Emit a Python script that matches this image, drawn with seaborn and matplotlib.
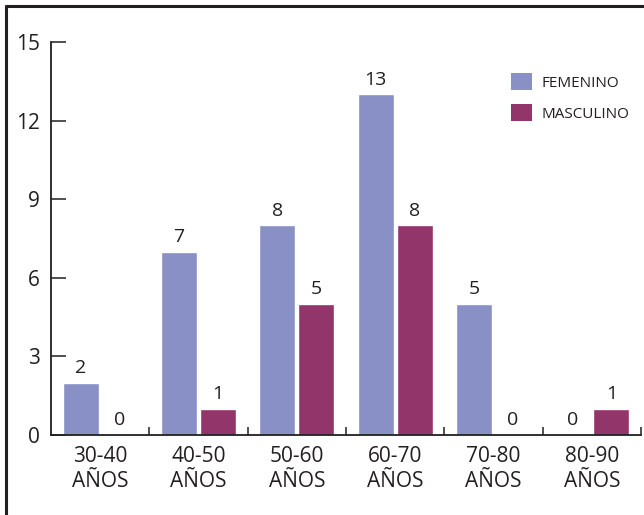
import pandas as pd
import matplotlib
matplotlib.use("Agg")
import matplotlib.pyplot as plt
import seaborn as sns
from matplotlib.patches import Patch
from matplotlib.lines import Line2D

# data
grupos = ["30-40\nAÑOS", "40-50\nAÑOS", "50-60\nAÑOS", "60-70\nAÑOS", "70-80\nAÑOS", "80-90\nAÑOS"]
femenino = [2, 7, 8, 13, 5, 0]
masculino = [0, 1, 5, 8, 0, 1]
series = ["FEMENINO", "MASCULINO"]
colores = ["#8890c6", "#92356a"]

df = pd.DataFrame({
    "grupo": grupos * 2,
    "sexo": [series[0]] * len(grupos) + [series[1]] * len(grupos),
    "casos": femenino + masculino,
})

sns.set_style("white")
plt.rcParams["font.family"] = ["Open Sans", "DejaVu Sans"]
ink = "#231f20"

fig = plt.figure(figsize=(6.44, 5.15), dpi=100)
ax = fig.add_axes([51 / 644, 80 / 515, 590 / 644, 393 / 515])

sns.barplot(data=df, x="grupo", y="casos", hue="sexo", palette=colores,
            width=0.79, gap=0.07, saturation=1, ax=ax, legend=False,
            errorbar=None)

for cont in ax.containers:
    ax.bar_label(cont, padding=4, fontsize=14, color=ink)

ax.set_xlim(-0.5, 5.5)
ax.set_ylim(0, 15)
ax.set_yticks(range(0, 16, 3))
ax.set_xlabel("")
ax.set_ylabel("")

sns.despine(ax=ax)
for s in ["left", "bottom"]:
    ax.spines[s].set_color(ink)
    ax.spines[s].set_linewidth(1.3)

ax.tick_params(axis="y", left=True, direction="in", length=10.8, width=1.1,
               color=ink, labelsize=15, labelcolor=ink, pad=8)
ax.tick_params(axis="x", which="major", bottom=True, length=0, labelsize=15,
               labelcolor=ink, pad=8)
ax.set_xticks([i + 0.5 for i in range(6)], minor=True)
ax.tick_params(axis="x", which="minor", bottom=True, direction="in",
               length=5.8, width=1.1, color=ink)
for lbl in ax.get_xticklabels():
    lbl.set_linespacing(1.25)

handles = [Patch(facecolor=c, edgecolor="none", label=s) for c, s in zip(colores, series)]
fig.legend(handles=handles, loc="upper left", bbox_to_anchor=(511 / 644, 442 / 515),
           frameon=False, fontsize=11, handlelength=1.37, handleheight=1.37,
           labelspacing=0.85, handletextpad=0.65, borderpad=0, borderaxespad=0,
           labelcolor=ink)

# outer frame (top and left edges)
fig.add_artist(Line2D([6 / 644, 1], [509 / 515, 509 / 515], color=ink, lw=2.2,
                      transform=fig.transFigure))
fig.add_artist(Line2D([6 / 644, 6 / 644], [0, 509 / 515], color=ink, lw=2.2,
                      transform=fig.transFigure))

fig.savefig("out.png", dpi=100)
